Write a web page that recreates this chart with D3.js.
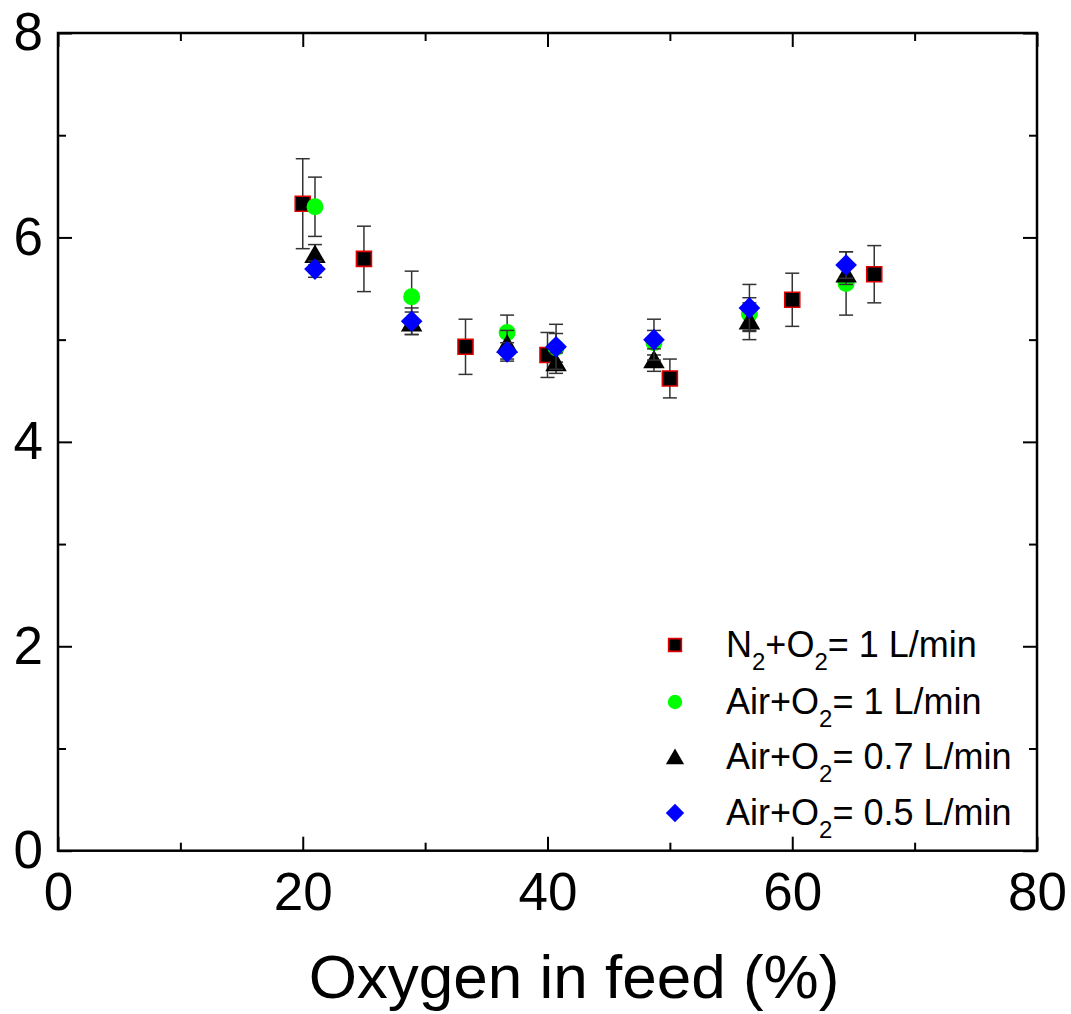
<!DOCTYPE html>
<html>
<head>
<meta charset="utf-8">
<script src="https://cdn.jsdelivr.net/npm/d3@7"></script>
<style>
  body { margin: 0; background: #fff; }
  svg text { font-family: "Liberation Sans", Arial, sans-serif; fill: #000; }
</style>
</head>
<body>
<svg id="chart" width="1071" height="1014"></svg>
<script>
"use strict";

// Oxygen in feed (%) for each series
const xN2 = [20, 25, 33.3, 40, 50, 60, 66.7];
const xAir = [21, 28.9, 36.7, 40.7, 48.7, 56.5, 64.4];

const yN2_1 = [6.33, 5.79, 4.93, 4.85, 4.62, 5.39, 5.64];
const eN2_1 = [0.44, 0.32, 0.27, 0.22, 0.19, 0.26, 0.28];
const yAir_1 = [6.30, 5.42, 5.07, 4.92, 4.97, 5.25, 5.55];
const eAir_1 = [0.29, 0.25, 0.17, 0.14, 0.12, 0.16, 0.31];
const yAir_07 = [5.83, 5.16, 4.95, 4.77, 4.80, 5.18, 5.64];
const eAir_07 = [0.10, 0.11, 0.14, 0.10, 0.11, 0.18, 0.10];
const yAir_05 = [5.69, 5.18, 4.88, 4.93, 5.00, 5.31, 5.73];
const eAir_05 = [0.08, 0.13, 0.09, 0.22, 0.20, 0.23, 0.13];

const xTicks = [0, 20, 40, 60, 80];
const xMinor = [10, 30, 50, 70];
const yTicks = [0, 2, 4, 6, 8];
const yMinor = [1, 3, 5, 7];

const series = [
  {name: ["N", "2", "+O", "2", "= 1 L/min"], x: xN2, y: yN2_1, e: eN2_1, shape: "square"},
  {name: ["Air+O", "2", "= 1 L/min"], x: xAir, y: yAir_1, e: eAir_1, shape: "circle"},
  {name: ["Air+O", "2", "= 0.7 L/min"], x: xAir, y: yAir_07, e: eAir_07, shape: "triangle"},
  {name: ["Air+O", "2", "= 0.5 L/min"], x: xAir, y: yAir_05, e: eAir_05, shape: "diamond"}
];

const svg = d3.select("#chart");
const plotL = 58, plotR = 1037, plotT = 33, plotB = 850.7;

const x = d3.scaleLinear().domain([0, 80]).range([plotL, plotR]);
const y = d3.scaleLinear().domain([0, 8]).range([plotB, plotT]);

// marker path generator
function markerPath(shape, big) {
  const k = big ? 1 : 0.85;
  if (shape === "square") return d3.symbol(d3.symbolSquare, 225 * k * k)();
  if (shape === "circle") return d3.symbol(d3.symbolCircle, 227 * k * k)();
  if (shape === "triangle") return d3.symbol(d3.symbolTriangle, 200 * k * k)();
  return d3.symbol(d3.symbolSquare, 235 * k * k)(); // rotated below
}
function markerTransform(shape) {
  if (shape === "triangle") return " translate(0,2)";
  if (shape === "diamond") return " rotate(45)";
  return "";
}
function styleMarker(sel, shape) {
  if (shape === "square") sel.attr("fill", "#000").attr("stroke", "#e00000").attr("stroke-width", 1.6);
  else if (shape === "circle") sel.attr("fill", "#00ff00");
  else if (shape === "triangle") sel.attr("fill", "#000");
  else sel.attr("fill", "#0000ff");
}

// data
series.forEach(s => {
  const pts = s.x.map((d, i) => ({x: d, y: s.y[i], e: s.e[i]}));
  const g = svg.append("g");
  const bars = g.selectAll("g.err").data(pts).enter().append("g")
    .attr("stroke", "#333").attr("stroke-width", 1.5);
  bars.append("line")
    .attr("x1", d => x(d.x)).attr("x2", d => x(d.x))
    .attr("y1", d => y(d.y + d.e)).attr("y2", d => y(d.y - d.e));
  [1, -1].forEach(sgn => {
    bars.append("line")
      .attr("x1", d => x(d.x) - 7).attr("x2", d => x(d.x) + 7)
      .attr("y1", d => y(d.y + sgn * d.e)).attr("y2", d => y(d.y + sgn * d.e));
  });
  g.selectAll("path.m").data(pts).enter().append("path")
    .attr("d", markerPath(s.shape, true))
    .attr("transform", d => "translate(" + x(d.x) + "," + y(d.y) + ")" + markerTransform(s.shape))
    .call(styleMarker, s.shape);
});

// axes with inward ticks on all four sides
function drawAxis(axis, transform, showLabels) {
  const g = svg.append("g").attr("transform", transform).call(axis);
  g.select(".domain").remove();
  g.selectAll(".tick line").attr("stroke", "#000").attr("stroke-width", 2);
  g.selectAll("text").style("font-size", "53px");
  if (!showLabels) g.selectAll("text").remove();
  return g;
}
drawAxis(d3.axisBottom(x).tickValues(xTicks).tickSize(-14).tickPadding(22).tickFormat(d3.format("d")), "translate(0," + plotB + ")", true);
drawAxis(d3.axisBottom(x).tickValues(xMinor).tickSize(-8), "translate(0," + plotB + ")", false);
drawAxis(d3.axisTop(x).tickValues(xTicks).tickSize(-14), "translate(0," + plotT + ")", false);
drawAxis(d3.axisTop(x).tickValues(xMinor).tickSize(-8), "translate(0," + plotT + ")", false);
drawAxis(d3.axisLeft(y).tickValues(yTicks).tickSize(-14).tickPadding(15).tickFormat(d3.format("d")), "translate(" + plotL + ",0)", true);
drawAxis(d3.axisLeft(y).tickValues(yMinor).tickSize(-8), "translate(" + plotL + ",0)", false);
drawAxis(d3.axisRight(y).tickValues(yTicks).tickSize(-14), "translate(" + plotR + ",0)", false);
drawAxis(d3.axisRight(y).tickValues(yMinor).tickSize(-8), "translate(" + plotR + ",0)", false);

svg.append("rect")
  .attr("x", plotL).attr("y", plotT)
  .attr("width", plotR - plotL).attr("height", plotB - plotT)
  .attr("fill", "none").attr("stroke", "#000").attr("stroke-width", 2.5);

// axis title
svg.append("text")
  .attr("x", 574).attr("y", 998)
  .attr("text-anchor", "middle")
  .style("font-size", "62px")
  .text("Oxygen in feed (%)");

// legend
const legendY = [645, 702, 757, 813];
series.forEach((s, i) => {
  const lg = svg.append("g").attr("transform", "translate(675," + legendY[i] + ")");
  lg.append("path")
    .attr("d", markerPath(s.shape, false))
    .attr("transform", markerTransform(s.shape).trim() || null)
    .call(styleMarker, s.shape);
  const t = lg.append("text").attr("x", 51).attr("y", 12).style("font-size", "36px");
  s.name.forEach((part, j) => {
    if (part === "2") {
      t.append("tspan").attr("dy", 13).style("font-size", "24px").text(part);
    } else {
      const ts = t.append("tspan").text(part);
      if (j > 0) ts.attr("dy", -13);
    }
  });
});
</script>
</body>
</html>
